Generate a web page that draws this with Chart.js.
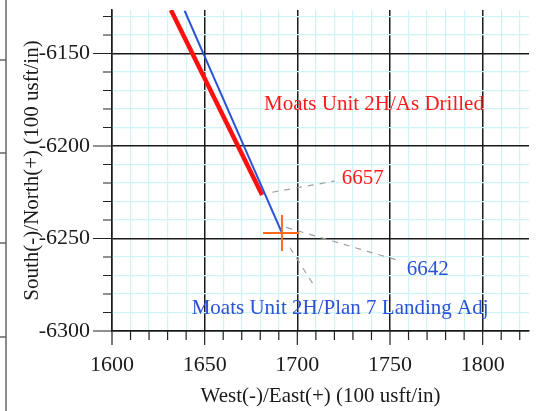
<!DOCTYPE html>
<html>
<head>
<meta charset="utf-8">
<script src="https://cdn.jsdelivr.net/npm/chart.js@4/dist/chart.umd.min.js"></script>
<style>
  html, body { margin: 0; padding: 0; background: #fff; }
  #wrap { width: 540px; height: 411px; position: relative; }
</style>
</head>
<body>
<div id="wrap"><canvas id="plot"></canvas></div>
<script>
// well paths (West/East, South/North in 100 usft)
const asDrilledEW = [1631.8, 1681.0];
const asDrilledNS = [-6126.5, -6226.5];
const planEW = [1639.2, 1691.7];
const planNS = [-6127.0, -6247.0];

// target cross
const crossHorizEW = [1681.5, 1701.0];
const crossHorizNS = [-6247.0, -6247.0];
const crossVertEW = [1691.7, 1691.7];
const crossVertNS = [-6237.3, -6256.8];

// dashed leaders to the depth labels
const leader6657EW = [1686.5, 1720.0];
const leader6657NS = [-6225.0, -6219.0];
const leader6642EW = [1694.0, 1755.0];
const leader6642NS = [-6244.0, -6262.0];
const leaderPlanEW = [1696.0, 1710.0];
const leaderPlanNS = [-6255.0, -6277.0];

const xTicks = [1600, 1610, 1620, 1630, 1640, 1650, 1660, 1670, 1680, 1690, 1700, 1710, 1720,
  1730, 1740, 1750, 1760, 1770, 1780, 1790, 1800, 1810, 1820];
const yTicks = [-6300, -6290, -6280, -6270, -6260, -6250, -6240, -6230, -6220, -6210, -6200,
  -6190, -6180, -6170, -6160, -6150, -6140, -6130];

const labelText = ['Moats Unit 2H/As Drilled', '6657', '6642', 'Moats Unit 2H/Plan 7 Landing Adj'];
const labelEW = [1682, 1724, 1759, 1643];
const labelNS = [-6177.3, -6217.3, -6267, -6287.6];
const labelColor = ['#ff1a1a', '#ff1a1a', '#2a52d8', '#2a52d8'];

const serif = '"Liberation Serif", "Times New Roman", serif';

function pts(xs, ys) {
    return xs.map((x, i) => ({ x: x, y: ys[i] }));
}

function lineSet(xs, ys, color, width, dash, order) {
    return {
        data: pts(xs, ys),
        showLine: true,
        borderColor: color,
        borderWidth: width,
        borderDash: dash || [],
        pointRadius: 0,
        order: order
    };
}

const isMajor = v => Math.abs(v % 50) < 0.001;

const decor = {
    id: 'decor',
    beforeDraw(chart) {
        const ctx = chart.ctx;
        ctx.save();
        ctx.fillStyle = '#fff';
        ctx.fillRect(0, 0, chart.width, chart.height);
        // outer frame edge on the left
        ctx.strokeStyle = '#666';
        ctx.lineWidth = 1.5;
        ctx.beginPath();
        ctx.moveTo(6, 0);
        ctx.lineTo(6, chart.height);
        [60, 153, 243, 337].forEach(y => {
            ctx.moveTo(0, y);
            ctx.lineTo(6, y);
        });
        ctx.stroke();
        ctx.restore();
    },
    afterDraw(chart) {
        const ctx = chart.ctx;
        const xs = chart.scales.x, ys = chart.scales.y;
        const area = chart.chartArea;
        ctx.save();
        // outward tick marks
        ctx.strokeStyle = '#222';
        ctx.lineWidth = 1.2;
        ctx.beginPath();
        xTicks.forEach(v => {
            const px = xs.getPixelForValue(v);
            ctx.moveTo(px, area.bottom);
            ctx.lineTo(px, area.bottom + (isMajor(v) ? 14 : 9));
        });
        yTicks.forEach(v => {
            const py = ys.getPixelForValue(v);
            ctx.moveTo(area.left, py);
            ctx.lineTo(area.left - (isMajor(v) ? 19 : 9), py);
        });
        ctx.stroke();
        // text labels
        ctx.font = '21px ' + serif;
        ctx.textBaseline = 'middle';
        ctx.textAlign = 'left';
        labelText.forEach((t, i) => {
            ctx.fillStyle = labelColor[i];
            ctx.fillText(t, xs.getPixelForValue(labelEW[i]), ys.getPixelForValue(labelNS[i]));
        });
        ctx.restore();
    }
};

const gridOpts = {
    color: c => isMajor(c.tick.value) ? '#1a1a1a' : '#d0f3f6',
    lineWidth: c => isMajor(c.tick.value) ? 1.5 : 1.2,
    drawTicks: false
};

function noPad(axis) {
    axis.paddingTop = 0;
    axis.paddingBottom = 0;
    axis.paddingLeft = 0;
    axis.paddingRight = 0;
}

new Chart(document.getElementById('plot'), {
    type: 'scatter',
    data: {
        datasets: [
            lineSet(crossHorizEW, crossHorizNS, '#ff6a1a', 2, null, 1),
            lineSet(crossVertEW, crossVertNS, '#ff6a1a', 2, null, 1),
            lineSet(planEW, planNS, '#2a52d8', 2, null, 2),
            lineSet(asDrilledEW, asDrilledNS, '#ff1010', 4.5, null, 3),
            lineSet(leader6657EW, leader6657NS, '#a0a0a0', 1.2, [6, 6], 4),
            lineSet(leader6642EW, leader6642NS, '#a0a0a0', 1.2, [6, 6], 4),
            lineSet(leaderPlanEW, leaderPlanNS, '#a0a0a0', 1.2, [6, 6], 4)
        ]
    },
    options: {
        responsive: true,
        maintainAspectRatio: false,
        animation: false,
        layout: { padding: { top: 10, right: 11, left: 0, bottom: 0 } },
        plugins: { legend: { display: false }, tooltip: { enabled: false } },
        scales: {
            x: {
                type: 'linear',
                min: 1600,
                max: 1825,
                afterBuildTicks: axis => { axis.ticks = xTicks.map(v => ({ value: v })); },
                afterFit: axis => { axis.height = 80; noPad(axis); },
                grid: gridOpts,
                border: { display: true, color: '#1a1a1a', width: 1.5 },
                ticks: {
                    autoSkip: false,
                    maxRotation: 0,
                    padding: 21,
                    color: '#1a1a1a',
                    font: { family: serif, size: 22 },
                    callback: v => isMajor(v) ? String(v) : ''
                },
                title: {
                    display: true,
                    text: 'West(-)/East(+) (100 usft/in)',
                    color: '#1a1a1a',
                    font: { family: serif, size: 21 },
                    padding: { top: 0, bottom: 2 }
                }
            },
            y: {
                type: 'linear',
                min: -6300,
                max: -6126.5,
                afterBuildTicks: axis => { axis.ticks = yTicks.map(v => ({ value: v })); },
                afterFit: axis => { axis.width = 112; noPad(axis); },
                grid: gridOpts,
                border: { display: true, color: '#1a1a1a', width: 1.5 },
                ticks: {
                    autoSkip: false,
                    padding: 22,
                    color: '#1a1a1a',
                    font: { family: serif, size: 22 },
                    callback: v => isMajor(v) ? String(v) : ''
                },
                title: {
                    display: true,
                    text: 'South(-)/North(+) (100 usft/in)',
                    color: '#1a1a1a',
                    font: { family: serif, size: 21 },
                    padding: { top: 20, bottom: 0 }
                }
            }
        }
    },
    plugins: [decor]
});
</script>
</body>
</html>
